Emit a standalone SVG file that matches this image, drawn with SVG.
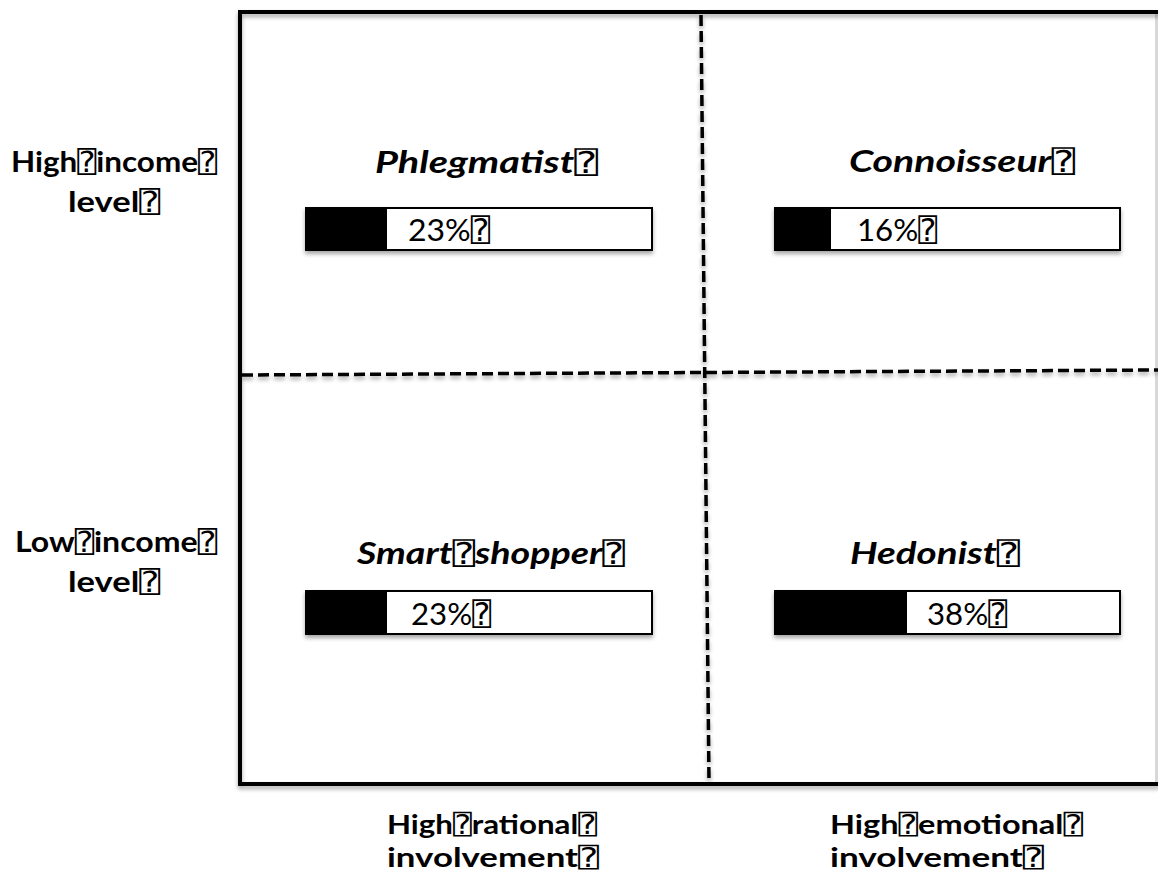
<svg xmlns="http://www.w3.org/2000/svg" width="1158" height="880" viewBox="0 0 1158 880">
<defs>
<filter id="sh" x="-5%" y="-20%" width="110%" height="160%">
<feDropShadow dx="0" dy="3" stdDeviation="2" flood-color="#000" flood-opacity="0.35"/>
</filter>
</defs>
<style>
.lbl{font-family:Lato,"Liberation Sans",sans-serif;font-weight:bold;font-size:29px;fill:#000}
.bot{font-family:Lato,"Liberation Sans",sans-serif;font-weight:bold;font-size:27px;fill:#000}
.ttl{font-family:Lato,"Liberation Sans",sans-serif;font-weight:bold;font-style:italic;font-size:30px;fill:#000}
.pct{font-family:Lato,"Liberation Sans",sans-serif;font-size:31px;fill:#000}
.q{font-family:"DejaVu Sans Mono","DejaVu Sans",monospace;font-weight:normal;font-style:normal}
.frame{stroke:#000;stroke-width:4;fill:none;stroke-linecap:square}
.dash{stroke:#000;stroke-width:3.5;fill:none;stroke-dasharray:11 5}
.bar{fill:#fff;stroke:#000;stroke-width:2}
.fill{fill:#000}
</style>
<rect width="1158" height="880" fill="#fff"/>
<g id="connectors">
<line x1="1156.5" y1="14" x2="1156.5" y2="784" stroke="#d8d8d8" stroke-width="3"/>
<g filter="url(#sh)">
<polyline class="frame" points="1158,12 240,12 240,784 1158,784"/>
<line class="dash" x1="701" y1="15" x2="709" y2="782"/>
<line class="dash" x1="242" y1="375" x2="1158" y2="370"/>
</g>
</g>
<g id="axis-high-income">
<text class="lbl" x="11" y="172" textLength="206" lengthAdjust="spacingAndGlyphs">High<tspan class="q">⍰</tspan>income<tspan class="q">⍰</tspan></text>
<text class="lbl" x="68" y="212" textLength="92" lengthAdjust="spacingAndGlyphs">level<tspan class="q">⍰</tspan></text>
</g>
<g id="axis-low-income">
<text class="lbl" x="15" y="552" textLength="202" lengthAdjust="spacingAndGlyphs">Low<tspan class="q">⍰</tspan>income<tspan class="q">⍰</tspan></text>
<text class="lbl" x="68" y="592" textLength="92" lengthAdjust="spacingAndGlyphs">level<tspan class="q">⍰</tspan></text>
</g>
<g id="axis-rational">
<text class="bot" x="387" y="834" textLength="210" lengthAdjust="spacingAndGlyphs">High<tspan class="q">⍰</tspan>rational<tspan class="q">⍰</tspan></text>
<text class="bot" x="387" y="867" textLength="212" lengthAdjust="spacingAndGlyphs">involvement<tspan class="q">⍰</tspan></text>
</g>
<g id="axis-emotional">
<text class="bot" x="830" y="834" textLength="253" lengthAdjust="spacingAndGlyphs">High<tspan class="q">⍰</tspan>emotional<tspan class="q">⍰</tspan></text>
<text class="bot" x="830" y="867" textLength="214" lengthAdjust="spacingAndGlyphs">involvement<tspan class="q">⍰</tspan></text>
</g>
<g id="phlegmatist">
<text class="ttl" x="375" y="173" textLength="223" lengthAdjust="spacingAndGlyphs">Phlegmatist<tspan class="q">⍰</tspan></text>
<g filter="url(#sh)">
<rect class="bar" x="306" y="208" width="346" height="42"/>
<rect class="fill" x="306" y="208" width="81" height="42"/>
</g>
<text class="pct" x="408" y="241" textLength="82" lengthAdjust="spacingAndGlyphs">23%<tspan class="q">⍰</tspan></text>
</g>
<g id="connoisseur">
<text class="ttl" x="849" y="172" textLength="226" lengthAdjust="spacingAndGlyphs">Connoisseur<tspan class="q">⍰</tspan></text>
<g filter="url(#sh)">
<rect class="bar" x="775" y="208" width="345" height="42"/>
<rect class="fill" x="775" y="208" width="56" height="42"/>
</g>
<text class="pct" x="857" y="241" textLength="80" lengthAdjust="spacingAndGlyphs">16%<tspan class="q">⍰</tspan></text>
</g>
<g id="smart-shopper">
<text class="ttl" x="357" y="564" textLength="268" lengthAdjust="spacingAndGlyphs">Smart<tspan class="q">⍰</tspan>shopper<tspan class="q">⍰</tspan></text>
<g filter="url(#sh)">
<rect class="bar" x="306" y="591" width="346" height="43"/>
<rect class="fill" x="306" y="591" width="81" height="43"/>
</g>
<text class="pct" x="411" y="625" textLength="80" lengthAdjust="spacingAndGlyphs">23%<tspan class="q">⍰</tspan></text>
</g>
<g id="hedonist">
<text class="ttl" x="850" y="564" textLength="170" lengthAdjust="spacingAndGlyphs">Hedonist<tspan class="q">⍰</tspan></text>
<g filter="url(#sh)">
<rect class="bar" x="775" y="591" width="345" height="43"/>
<rect class="fill" x="775" y="591" width="132" height="43"/>
</g>
<text class="pct" x="927" y="625" textLength="80" lengthAdjust="spacingAndGlyphs">38%<tspan class="q">⍰</tspan></text>
</g>
</svg>
